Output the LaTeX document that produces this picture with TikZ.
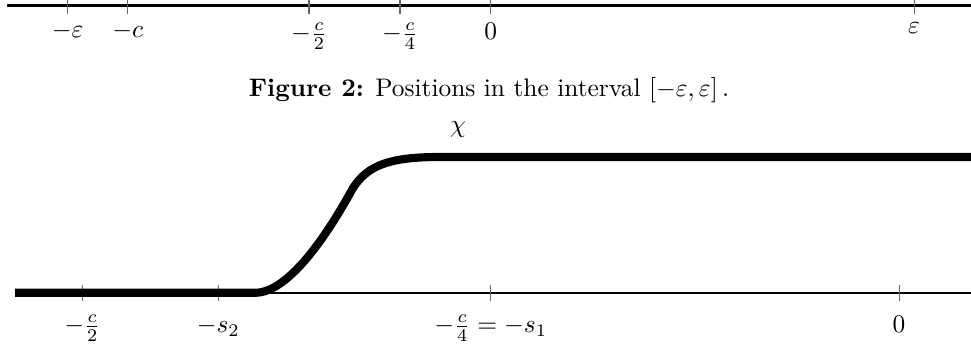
\documentclass[tikz,border=0pt]{standalone}
\begin{document}
\begin{tikzpicture}[x=0.3937pt,y=-0.3937pt,
  axisline/.style={line width=1.15pt},
  tickline/.style={line width=0.4pt,black!60},
  curveline/.style={line width=3.2pt},
  toplabel/.style={anchor=north},
  botlabel/.style={anchor=base}]
\useasboundingbox (0,0) rectangle (971,346);
% top axis
\coordinate (ta) at (7,5.3);
\coordinate (tb) at (971,5.3);
\draw[axisline] (ta) -- (tb);
\foreach \n/\x in {me/67.7,mc/127.7,mch/309,mcq/400,z/490.7,e/914}{
  \coordinate (t\n) at (\x,0);
  \coordinate (b\n) at (\x,14);
  \draw[tickline] (t\n) -- (b\n);
}
\node[toplabel] (lme) at (bme) {$-\varepsilon$};
\node[toplabel] (lmc) at (bmc) {$-c$};
\node[toplabel] (lmch) at (bmch) {$-\frac{c}{2}$};
\node[toplabel] (lmcq) at (bmcq) {$-\frac{c}{4}$};
\node[toplabel] (lz) at (bz) {$0$};
\node[toplabel] (le) at (be) {$\varepsilon$};
% caption
\node[anchor=base] (cap) at (489,97) {\textbf{Figure 2:} Positions in the interval $[-\varepsilon,\varepsilon]\,$.};
% bottom axis
\coordinate (ba) at (15,292.8);
\coordinate (bb) at (971,292.8);
\draw[line width=1pt] (ba) -- (bb);
\foreach \n/\x in {ch/82.3,s/218.3,q/490.7,o/899}{
  \coordinate (u\n) at (\x,285);
  \coordinate (d\n) at (\x,301.5);
  \draw[tickline] (u\n) -- (d\n);
}
\node[botlabel] (lch) at (82.3,332.5) {$-\frac{c}{2}$};
\node[botlabel] (ls) at (218.3,332.5) {$-s_2$};
\node[botlabel] (lq) at (490.7,332.5) {$-\frac{c}{4}=-s_1$};
\node[botlabel] (lo) at (899,332.5) {$0$};
% chi curve
\coordinate (c0) at (15,292.8);
\coordinate (c1) at (255,292.8);
\coordinate (c2) at (353,188);
\coordinate (c3) at (440,157);
\coordinate (c4) at (971,157);
\draw[curveline] (c0) -- (c1) .. controls (290,292.8) and (330,230) .. (c2)
  .. controls (368,165) and (390,157) .. (c3) -- (c4);
\node[anchor=base] (chi) at (458,133) {$\chi$};
\end{tikzpicture}
\end{document}
